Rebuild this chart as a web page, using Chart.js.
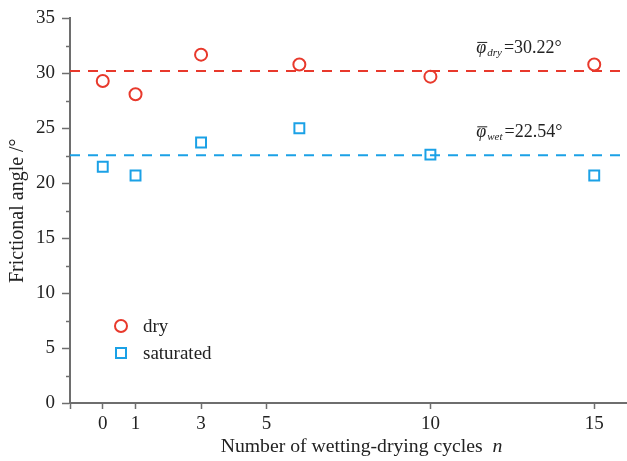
<!DOCTYPE html>
<html>
<head>
<meta charset="utf-8">
<script src="https://cdn.jsdelivr.net/npm/chart.js@4.4.0/dist/chart.umd.min.js"></script>
<style>
body{margin:0;background:#fff}
canvas{display:block}
</style>
</head>
<body>
<canvas id="angleChart" width="627" height="461"></canvas>
<script>

// =============================
// DATA
// =============================

const cycles = [0, 1, 3, 6, 10, 15]
const dryAngle = [29.3, 28.1, 31.7, 30.8, 29.7, 30.8]
const satAngle = [21.5, 20.7, 23.7, 25.0, 22.6, 20.7]

const xTickValues = [-1, 0, 1, 3, 5, 10, 15]
const yMinorTicks = [2.5, 7.5, 12.5, 17.5, 22.5, 27.5, 32.5]

const meanDry = 30.22
const meanWet = 22.54

const RED = "#e8392c"
const BLUE = "#1ba1e6"
const AXIS = "#6e6e6e"
const TEXT = "#222"
const FONT = "'Liberation Serif','Times New Roman',serif"


// =============================
// HELPERS
// =============================

function toPoints(xs, ys){
return xs.map((x,i)=>({x:x, y:ys[i]}))
}

function meanLine(v){
return [{x:-1, y:v}, {x:16, y:v}]
}


// =============================
// PLUGIN: minor ticks, legend, labels
// =============================

const extras = {

id:"extras",

afterDraw(chart){

const ctx = chart.ctx
const area = chart.chartArea
const xs = chart.scales.x
const ys = chart.scales.y

ctx.save()

// minor ticks on the y axis
ctx.strokeStyle = AXIS
ctx.lineWidth = 1.5
yMinorTicks.forEach(v=>{
let py = Math.round(ys.getPixelForValue(v)) + 0.5
ctx.beginPath()
ctx.moveTo(area.left - 4, py)
ctx.lineTo(area.left, py)
ctx.stroke()
})

// legend
const lx = area.left + 51
const items = [
{label:chart.data.datasets[0].label, color:RED, style:"circle", y:area.bottom - 77},
{label:chart.data.datasets[1].label, color:BLUE, style:"rect", y:area.bottom - 50}
]
ctx.lineWidth = 2
ctx.font = "19px " + FONT
ctx.textBaseline = "middle"
ctx.textAlign = "left"
items.forEach(it=>{
ctx.strokeStyle = it.color
ctx.beginPath()
if(it.style=="circle"){
ctx.arc(lx, it.y, 6, 0, Math.PI*2)
}else{
ctx.rect(lx - 5, it.y - 5, 10, 10)
}
ctx.stroke()
ctx.fillStyle = TEXT
ctx.fillText(it.label, lx + 22, it.y + 1)
})

// mean value labels
function meanLabel(sub, value){
let x0 = xs.getPixelForValue(11.4)
let base = ys.getPixelForValue(value) - 18
ctx.fillStyle = TEXT
ctx.textBaseline = "alphabetic"
ctx.font = "italic 18px " + FONT
ctx.fillText("\u03c6", x0, base)
let w = ctx.measureText("\u03c6").width
ctx.strokeStyle = TEXT
ctx.lineWidth = 1
ctx.beginPath()
ctx.moveTo(x0 + 1, base - 10.5)
ctx.lineTo(x0 + w + 1, base - 10.5)
ctx.stroke()
let x1 = x0 + w + 1
ctx.font = "italic 11px " + FONT
ctx.fillText(sub, x1, base + 3)
x1 += ctx.measureText(sub).width + 2
ctx.font = "18px " + FONT
ctx.fillText("=" + value.toFixed(2) + "\u00b0", x1, base)
}
meanLabel("dry", meanDry)
meanLabel("wet", meanWet)

// x axis title with italic n
const t1 = "Number of wetting-drying cycles  "
const t2 = "n"
ctx.font = "19.7px " + FONT
let w1 = ctx.measureText(t1).width
ctx.font = "italic 19.7px " + FONT
let w2 = ctx.measureText(t2).width
let sx = (area.left + area.right)/2 + 13 - (w1 + w2)/2
let by = area.bottom + 49
ctx.textBaseline = "alphabetic"
ctx.fillStyle = TEXT
ctx.font = "19.7px " + FONT
ctx.fillText(t1, sx, by)
ctx.font = "italic 19.7px " + FONT
ctx.fillText(t2, sx + w1, by)

ctx.restore()

}

}


// =============================
// CHART
// =============================

const chart = new Chart(document.getElementById("angleChart"),{

type:"scatter",

data:{

datasets:[

{
label:"dry",
data:toPoints(cycles, dryAngle),
pointStyle:"circle",
pointRadius:6,
pointBorderWidth:2,
borderColor:RED,
backgroundColor:"transparent"
},

{
label:"saturated",
data:toPoints(cycles, satAngle),
pointStyle:"rect",
pointRadius:7,
pointBorderWidth:2,
borderColor:BLUE,
backgroundColor:"transparent"
},

{
label:"mean dry",
data:meanLine(meanDry),
showLine:true,
pointRadius:0,
borderColor:RED,
borderWidth:2,
borderDash:[10,8]
},

{
label:"mean wet",
data:meanLine(meanWet),
showLine:true,
pointRadius:0,
borderColor:BLUE,
borderWidth:2,
borderDash:[10,8]
}

]

},

options:{

responsive:false,
animation:false,

layout:{
autoPadding:false,
padding:{top:17, right:0, left:0, bottom:0}
},

plugins:{
legend:{display:false},
tooltip:{enabled:false}
},

scales:{

x:{
type:"linear",
min:-1,
max:16,
afterBuildTicks(scale){
scale.ticks = xTickValues.map(v=>({value:v}))
},
afterFit(scale){
scale.height = 58
scale.paddingLeft = 0
scale.paddingRight = 0
},
ticks:{
callback:v=> v<0 ? "" : v,
font:{family:FONT, size:19},
color:TEXT,
padding:4,
maxRotation:0,
autoSkip:false
},
grid:{
drawOnChartArea:false,
drawTicks:true,
tickLength:6,
tickColor:AXIS,
tickWidth:1.5
},
border:{display:true, color:AXIS, width:2}
},

y:{
min:0,
max:35,
afterFit(scale){
scale.width = 70
},
ticks:{
stepSize:5,
font:{family:FONT, size:19},
color:TEXT,
padding:7
},
grid:{
drawOnChartArea:false,
drawTicks:true,
tickLength:8,
tickColor:AXIS,
tickWidth:1.5
},
border:{display:true, color:AXIS, width:2},
title:{
display:true,
text:"Frictional angle /\u00b0",
font:{family:FONT, size:20},
color:TEXT,
padding:{top:6, bottom:0}
}
}

}

},

plugins:[extras]

})

</script>
</body>
</html>
